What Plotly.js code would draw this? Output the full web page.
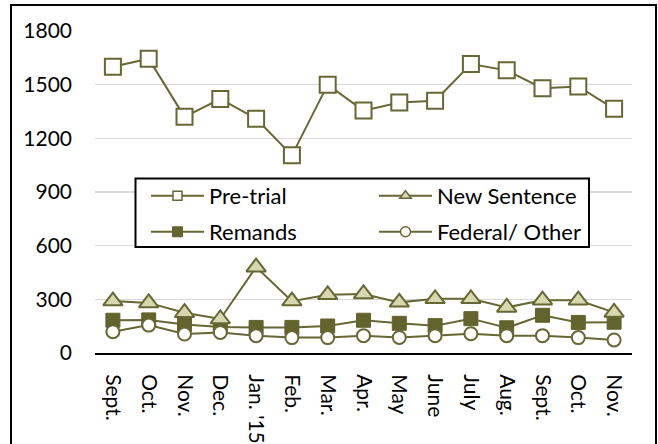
<!DOCTYPE html>
<html>
<head>
<meta charset="utf-8">
<script src="https://cdn.plot.ly/plotly-3.0.1.min.js"></script>
<style>
  html, body { margin: 0; padding: 0; background: #ffffff; }
  #chart { width: 658px; height: 444px; }
</style>
</head>
<body>
<div id="chart"></div>
<script>
// ---- Data ----
const months = ["Sept.", "Oct.", "Nov.", "Dec.", "Jan. '15", "Feb.", "Mar.", "Apr.", "May", "June", "July", "Aug.", "Sept.", "Oct.", "Nov."];
const preTrial    = [1600, 1645, 1320, 1420, 1310, 1105, 1500, 1355, 1400, 1410, 1615, 1580, 1480, 1490, 1365];
const newSentence = [290, 280, 225, 190, 480, 290, 325, 330, 283, 303, 303, 255, 295, 295, 227];
const remands     = [183, 185, 160, 145, 143, 143, 151, 183, 166, 153, 192, 141, 211, 171, 172];
const federal     = [119, 156, 106, 115, 97, 86, 86, 97, 87, 97, 108, 97, 97, 86, 73];
const yTicks = [0, 300, 600, 900, 1200, 1500, 1800];

const OLIVE = "#676734";
const OLIVE_FILL = "#63632e";
const KHAKI = "#d8d8b0";
const FONT = "Lato, 'Liberation Sans', sans-serif";

const xIdx = months.map((_, i) => i);

function series(name, y, marker, legendId, legendMarker) {
  return [
    { type: "scatter", mode: "lines+markers", x: xIdx, y: y, name: name,
      line: { color: OLIVE, width: 2 }, marker: marker, showlegend: false, hoverinfo: "skip" },
    { type: "scatter", mode: "lines+markers", x: [null], y: [null], name: name,
      line: { color: OLIVE, width: 2 }, marker: legendMarker, showlegend: true, legend: legendId }
  ];
}

const traces = [].concat(
  series("Pre-trial", preTrial,
    { symbol: "square", size: 16, color: "#ffffff", line: { color: OLIVE, width: 2 } }, "legend",
    { symbol: "square", size: 9, color: "#ffffff", line: { color: OLIVE, width: 1.5 } }),
  series("Remands", remands,
    { symbol: "square", size: 14, color: OLIVE_FILL, line: { color: OLIVE_FILL, width: 1 } }, "legend3",
    { symbol: "square", size: 10, color: OLIVE_FILL, line: { color: OLIVE_FILL, width: 1 } }),
  series("New Sentence", newSentence,
    { symbol: "triangle-up", size: 17, color: KHAKI, line: { color: OLIVE, width: 2 } }, "legend2",
    { symbol: "triangle-up", size: 10, color: KHAKI, line: { color: OLIVE, width: 1.5 } }),
  series("Federal/ Other", federal,
    { symbol: "circle", size: 13, color: "#ffffff", line: { color: OLIVE, width: 2 } }, "legend4",
    { symbol: "circle", size: 10, color: "#ffffff", line: { color: OLIVE, width: 1.5 } })
);

const L = 95, R = 26, T = 31, B = 91, W = 658, H = 444;
const pw = W - L - R, ph = H - T - B;
const px = v => (v - L) / pw;
const py = v => (H - B - v) / ph;

function legendAt(xp, yp) {
  return { x: px(xp), y: py(yp), xanchor: "left", yanchor: "middle", xref: "paper", yref: "paper",
    bgcolor: "rgba(0,0,0,0)", borderwidth: 0, itemwidth: 53,
    font: { family: FONT, size: 22, color: "#000000" } };
}

const layout = {
  width: W, height: H,
  margin: { l: L, r: R, t: T, b: B, pad: 0 },
  paper_bgcolor: "#ffffff", plot_bgcolor: "#ffffff",
  font: { family: FONT, color: "#000000" },
  xaxis: {
    range: [-0.5, months.length - 0.5],
    tickvals: xIdx, ticktext: months, tickangle: 90,
    showgrid: false, zeroline: false,
    showline: true, linecolor: "#000000", linewidth: 2,
    ticks: "", ticklabelstandoff: 15,
    tickfont: { family: FONT, size: 21, color: "#000000" },
    fixedrange: true
  },
  yaxis: {
    range: [0, 1800], tickvals: yTicks,
    showgrid: true, gridcolor: "#d9d9d9", gridwidth: 1.3,
    zeroline: false, showline: false,
    ticks: "", ticklabelstandoff: 22,
    tickfont: { family: FONT, size: 21, color: "#000000" },
    fixedrange: true
  },
  legend:  legendAt(146, 196),
  legend2: legendAt(374, 196),
  legend3: legendAt(146, 232),
  legend4: legendAt(374, 232),
  shapes: [
    { type: "rect", xref: "paper", yref: "paper", layer: "above",
      x0: px(135.5), x1: px(589), y0: py(247), y1: py(178.5),
      line: { color: "#000000", width: 2 }, fillcolor: "#ffffff" },
    { type: "rect", xref: "paper", yref: "paper", layer: "below",
      x0: px(11), x1: px(656), y0: py(470), y1: py(5),
      line: { color: "#000000", width: 2 }, fillcolor: "rgba(0,0,0,0)" }
  ],
  showlegend: true
};

Plotly.newPlot("chart", traces, layout, { staticPlot: true, displayModeBar: false });
</script>
</body>
</html>
